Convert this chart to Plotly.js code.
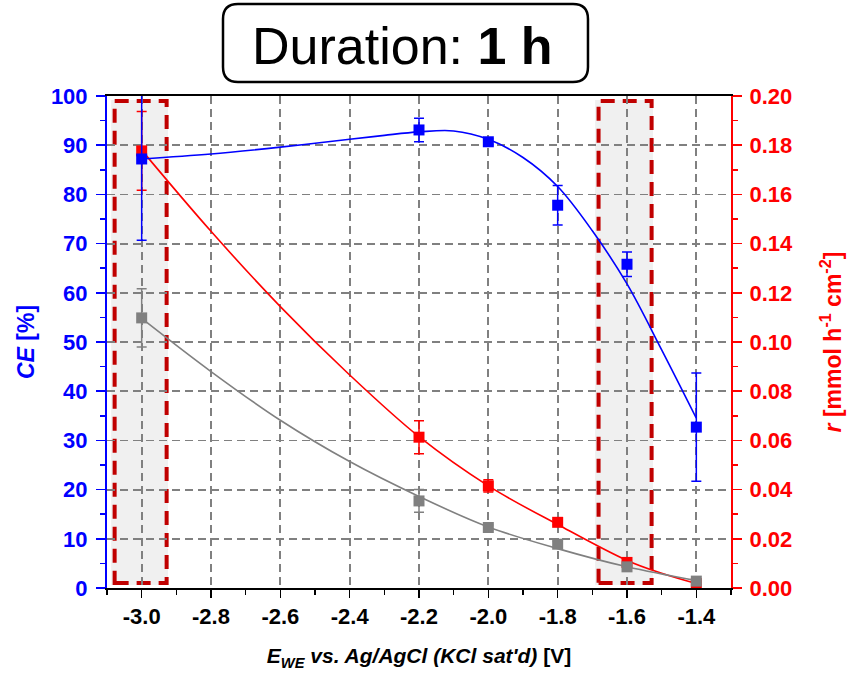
<!DOCTYPE html>
<html>
<head>
<meta charset="utf-8">
<script src="https://cdn.plot.ly/plotly-3.0.1.min.js"></script>
<style>html,body{margin:0;padding:0;background:#fff;}#chart{width:853px;height:677px;}</style>
</head>
<body>
<div id="chart"></div>
<script>
// ---- data ----
const potentials = [-3.0, -2.2, -2.0, -1.8, -1.6, -1.4];
const ceValues = [87.2, 93.1, 90.7, 77.8, 65.8, 32.7];
const ceErrors = [16.5, 2.4, 0.6, 4.0, 2.5, 11.0];
const rateValues = [0.1777, 0.0613, 0.0415, 0.0267, 0.0104, 0.0018];
const rateErrors = [0.016, 0.0067, 0.0025, 0.001, 0.001, 0.0005];
const greyValues = [54.9, 17.7, 12.3, 8.9, 4.3, 1.4];
const greyErrors = [5.9, 2.3, 0.5, 0.6, 0.5, 0.4];

// fitted curves
const ceFitX = [-3.0, -2.8, -2.6, -2.4, -2.3, -2.2, -2.1, -2.0, -1.9, -1.8, -1.7, -1.6, -1.5, -1.4];
const ceFitY = [87.2, 88.2, 89.6, 91.2, 92.0, 92.7, 92.9, 91.2, 87.5, 81.6, 72.6, 61.8, 48.4, 34.5];
const rateFitX = [-3.0, -2.8, -2.6, -2.4, -2.2, -2.0, -1.8, -1.6, -1.5, -1.4];
const rateFitY = [0.178, 0.145, 0.1144, 0.0866, 0.0615, 0.0415, 0.0258, 0.0112, 0.006, 0.0018];
const greyFitX = [-3.0, -2.8, -2.6, -2.4, -2.2, -2.0, -1.8, -1.6, -1.4];
const greyFitY = [54.8, 44.0, 34.1, 25.7, 18.6, 12.4, 8.0, 4.3, 1.5];

// tick labels
const xTickVals = [-3.0, -2.8, -2.6, -2.4, -2.2, -2.0, -1.8, -1.6, -1.4];
const xTickText = ["-3.0", "-2.8", "-2.6", "-2.4", "-2.2", "-2.0", "-1.8", "-1.6", "-1.4"];

// highlighted potential windows
const windows = [[-3.078, -2.928], [-1.682, -1.529]];

const FONT = "Arial, 'Liberation Sans', sans-serif";
const BLUE = "#0000ff", RED = "#ff0000", GREY = "#808080";

const traces = [
  {x: rateFitX, y: rateFitY, yaxis: "y", mode: "lines", line: {color: RED, width: 1.6, shape: "spline", smoothing: 1}, hoverinfo: "skip"},
  {x: potentials, y: rateValues, yaxis: "y", mode: "markers", marker: {symbol: "square", size: 11, color: RED},
   error_y: {type: "data", array: rateErrors, visible: true, color: RED, thickness: 1.5, width: 5}},
  {x: ceFitX, y: ceFitY, yaxis: "y2", mode: "lines", line: {color: BLUE, width: 1.6, shape: "spline", smoothing: 1}, hoverinfo: "skip"},
  {x: potentials, y: ceValues, yaxis: "y2", mode: "markers", marker: {symbol: "square", size: 11, color: BLUE},
   error_y: {type: "data", array: ceErrors, visible: true, color: BLUE, thickness: 1.5, width: 5}},
  {x: greyFitX, y: greyFitY, yaxis: "y2", mode: "lines", line: {color: GREY, width: 1.6, shape: "spline", smoothing: 1}, hoverinfo: "skip"},
  {x: potentials, y: greyValues, yaxis: "y2", mode: "markers", marker: {symbol: "square", size: 11, color: GREY},
   error_y: {type: "data", array: greyErrors, visible: true, color: GREY, thickness: 1.5, width: 5}}
];

// title box (rounded rectangle in paper coords)
const bx0 = 0.1859, bx1 = 0.7708, by0 = 1.0285, by1 = 1.187, rx = 0.024, ry = 0.0305;
const boxPath = `M ${bx0+rx},${by1} L ${bx1-rx},${by1} Q ${bx1},${by1} ${bx1},${by1-ry} L ${bx1},${by0+ry} Q ${bx1},${by0} ${bx1-rx},${by0} L ${bx0+rx},${by0} Q ${bx0},${by0} ${bx0},${by0+ry} L ${bx0},${by1-ry} Q ${bx0},${by1} ${bx0+rx},${by1} Z`;

const shapes = [];
windows.forEach(w => {
  shapes.push({type: "rect", xref: "x", yref: "paper", x0: w[0] - 0.01, x1: w[1] + 0.004, y0: 0.006, y1: 0.992,
    fillcolor: "#f0f0f0", line: {width: 0}, layer: "below"});
  shapes.push({type: "rect", xref: "x", yref: "paper", x0: w[0], x1: w[1], y0: 0.0102, y1: 0.99,
    fillcolor: "rgba(0,0,0,0)", line: {color: "#c00000", width: 4, dash: "14px,8px"}, layer: "between"});
});
shapes.push({type: "path", xref: "paper", yref: "paper", path: boxPath, line: {color: "#000", width: 2.5}, fillcolor: "#fff"});

const layout = {
  width: 853, height: 677,
  margin: {l: 107, r: 122, t: 96, b: 89},
  paper_bgcolor: "#fff", plot_bgcolor: "rgba(0,0,0,0)",
  showlegend: false,
  font: {family: FONT},
  xaxis: {
    range: [-3.1, -1.3], tickvals: xTickVals, ticktext: xTickText,
    showline: true, linecolor: "#000", linewidth: 2, mirror: true,
    ticks: "outside", ticklen: 8, tickwidth: 1.5, tickcolor: "#000",
    minor: {dtick: 0.1, ticks: "outside", ticklen: 5, tickwidth: 1.5, tickcolor: "#000", showgrid: false},
    showgrid: true, gridcolor: GREY, gridwidth: 1.8, griddash: "8px,5px",
    zeroline: false,
    tickfont: {family: FONT, size: 22, color: "#000", weight: "bold"},
    title: {text: "<b><i>E</i><sub><i>WE</i></sub><i> vs. Ag/AgCl (KCl sat'd)</i> [V]</b>", font: {family: FONT, size: 21, color: "#000"}, standoff: 20}
  },
  yaxis: {
    side: "right", range: [0, 0.2], dtick: 0.02, tickformat: ".2f",
    showline: true, linecolor: RED, linewidth: 2,
    ticks: "outside", ticklen: 9, tickwidth: 1.5, tickcolor: RED,
    minor: {dtick: 0.01, ticks: "outside", ticklen: 5, tickwidth: 1.5, tickcolor: RED, showgrid: false},
    showgrid: true, gridcolor: GREY, gridwidth: 1.8, griddash: "8px,5px",
    zeroline: false, ticklabelstandoff: 3,
    tickfont: {family: FONT, size: 22, color: RED, weight: "bold"},
    title: {text: "<b><i>r</i> [mmol h<sup>-1</sup> cm<sup>-2</sup>]</b>", font: {family: FONT, size: 23, color: RED}, standoff: 33}
  },
  yaxis2: {
    overlaying: "y", side: "left", range: [0, 100], dtick: 10,
    showline: true, linecolor: BLUE, linewidth: 2,
    ticks: "outside", ticklen: 9, tickwidth: 1.5, tickcolor: BLUE,
    minor: {dtick: 5, ticks: "outside", ticklen: 5, tickwidth: 1.5, tickcolor: BLUE, showgrid: false},
    showgrid: false, zeroline: false, ticklabelstandoff: 4,
    tickfont: {family: FONT, size: 22, color: BLUE, weight: "bold"},
    title: {text: "<b><i>CE</i> [%]</b>", font: {family: FONT, size: 23, color: BLUE}, standoff: 10}
  },
  shapes: shapes,
  annotations: [{
    xref: "paper", yref: "paper", x: 0.473, y: 1.1016, xanchor: "center", yanchor: "middle",
    text: "Duration: <b>1 h</b>", showarrow: false, font: {family: FONT, size: 52, color: "#000"}
  }]
};

Plotly.newPlot("chart", traces, layout, {displayModeBar: false, staticPlot: true});
</script>
</body>
</html>
